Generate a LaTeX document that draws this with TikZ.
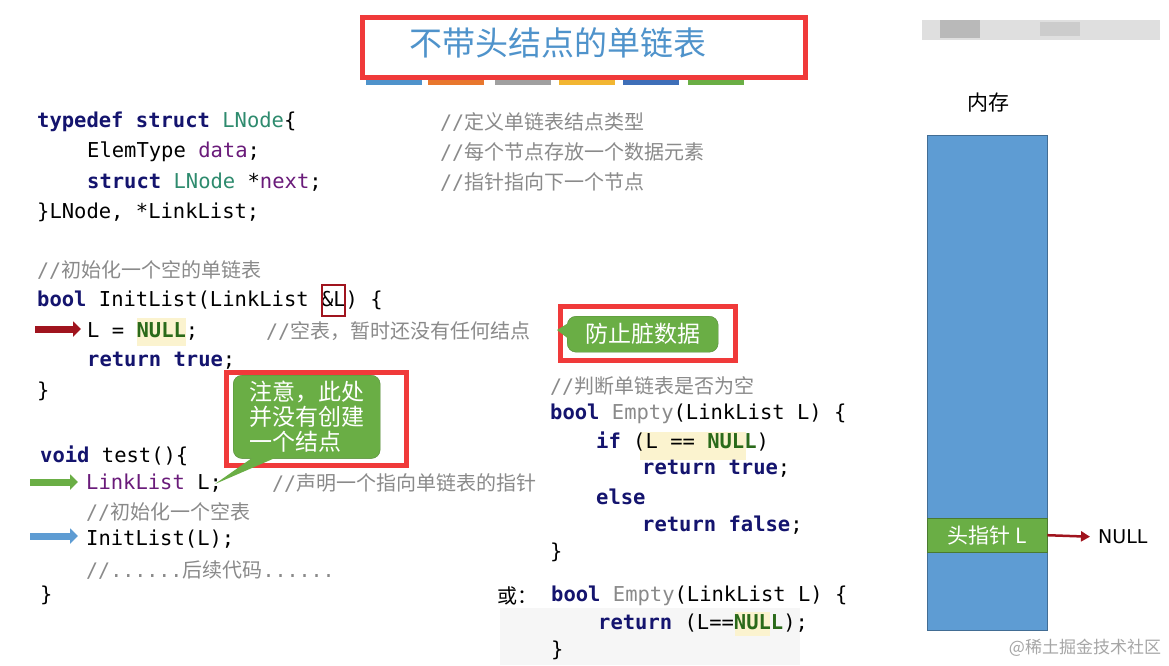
\documentclass[tikz,border=0pt]{standalone}
\usepackage{fontspec}
\setmainfont{DejaVu Sans}
\setmonofont{DejaVu Sans Mono}
\newfontfamily\cjk{Noto Sans CJK SC}
\usetikzlibrary{arrows.meta,shapes.callouts}
\definecolor{kw}{HTML}{14146E}
\definecolor{ty}{HTML}{2E8B6E}
\definecolor{fld}{HTML}{6A1B7A}
\definecolor{cm}{HTML}{8A8A8A}
\definecolor{nul}{HTML}{2A6A1A}
\definecolor{hl}{HTML}{FBF3CF}
\definecolor{ttl}{HTML}{4F93CB}
\definecolor{mem}{HTML}{5E9CD3}
\definecolor{grn}{HTML}{6AAE45}
\definecolor{redb}{HTML}{F03A3A}
\definecolor{dred}{HTML}{A0141E}
\definecolor{b1}{HTML}{4F93CB}
\definecolor{b2}{HTML}{E8772E}
\definecolor{b3}{HTML}{A0A0A0}
\definecolor{b4}{HTML}{F2B632}
\definecolor{b5}{HTML}{3E6FB8}
\definecolor{b6}{HTML}{6AAE45}
\newcommand{\kw}[1]{{\bfseries\color{kw}#1}}
\newcommand{\ty}[1]{{\color{ty}#1}}
\newcommand{\fl}[1]{{\color{fld}#1}}
\newcommand{\cm}[1]{{\color{cm}//\cjk #1}}
\newcommand{\nl}{{\bfseries\color{nul}NULL}}
\begin{document}
\begin{tikzpicture}[x=1pt,y=-1pt,
  code/.style={anchor=west,inner sep=0pt,font=\ttfamily\fontsize{20.5}{22}\selectfont},
  cmt/.style={anchor=west,inner sep=0pt,font=\ttfamily\fontsize{20}{22}\selectfont},
  redbox/.style={draw=redb,line width=5pt},
  bubble/.style={fill=grn,draw=grn!80!black,rounded corners=9pt,text=white,font=\cjk\fontsize{23}{27}\selectfont,align=left,inner sep=4pt},
  blk/.style={-{Triangle[length=8pt,width=15pt]},line width=7pt}]
\useasboundingbox (0,0) rectangle (1169,665);
\fill[white] (0,0) rectangle (1169,665);
% top-right blurred
\fill[gray!25] (922,20) rectangle (1160,40);
\fill[gray!55] (940,20) rectangle (980,38);
\fill[gray!40] (1040,22) rectangle (1080,36);
% title
\foreach \x/\c in {366/b1,428/b2,495/b3,559/b4,623/b5,688/b6}
  \fill[\c] (\x,80) rectangle ++(56,5);
\node[redbox,minimum width=443pt,minimum height=60pt,anchor=north west,inner sep=0pt] (title) at (360,15) {};
\node[text=ttl,font=\cjk\fontsize{33}{36}\selectfont] (tt) at (558,43) {不带头结点的单链表};
% struct
\node[code] (l1) at (37,122) {\kw{typedef struct} \ty{LNode}\{};
\node[code] (l2) at (87,152) {ElemType \fl{data};};
\node[code] (l3) at (87,182) {\kw{struct} \ty{LNode} *\fl{next};};
\node[code] (l4) at (37,212) {\}LNode, *LinkList;};
\node[cmt] (c1) at (440,122) {\cm{定义单链表结点类型}};
\node[cmt] (c2) at (440,152) {\cm{每个节点存放一个数据元素}};
\node[cmt] (c3) at (440,182) {\cm{指针指向下一个节点}};
% InitList
\node[cmt] (c4) at (37,270) {\cm{初始化一个空的单链表}};
\node[code] (i1) at (37,300) {\kw{bool} InitList(LinkList \&L) \{};
\draw[dred,line width=2pt] (322,285) rectangle (345,316);
\fill[hl] (137,318) rectangle (186,346);
\node[code] (i2) at (87,331) {L = \nl;};
\node[cmt] (c5) at (266,331) {\cm{空表，暂时还没有任何结点}};
\node[code] (i3) at (87,361) {\kw{return true};};
\node[code] (i4) at (37,391) {\}};
\coordinate (ra) at (35,329);
\draw[blk,dred] (ra) -- ++(46,0) coordinate (rb);
% test
\node[code] (t1) at (40,456) {\kw{void} test()\{};
\node[code] (t2) at (86,483) {\fl{LinkList} L;};
\node[cmt] (c6) at (272,483) {\cm{声明一个指向单链表的指针}};
\node[cmt] (c7) at (86,512) {\cm{初始化一个空表}};
\node[code] (t3) at (86,539) {InitList(L);};
\node[cmt] (c8) at (86,570) {{\color{cm}//......\cjk 后续代码\ttfamily ......}};
\node[code] (t4) at (40,595) {\}};
\draw[blk,grn] (30,482) -- ++(48,0);
\draw[blk,mem] (30,536) -- ++(48,0);
% callouts
\node[redbox,anchor=north west,minimum width=180pt,minimum height=93pt,inner sep=0pt] (rb2) at (224,370) {};
\node[bubble,anchor=north west,minimum width=147pt,minimum height=83pt,inner sep=6pt] (b2) at (233,375) {注意，此处\\[-2pt]并没有创建\\[-2pt]一个结点};
\fill[grn] (252,458) -- (215,484) -- (275,458) -- cycle;
\node[redbox,anchor=north west,minimum width=175pt,minimum height=54pt,inner sep=0pt] (rb1) at (558,304) {};
\node[bubble,anchor=north west,minimum width=151pt,minimum height=36pt] (b1) at (567,316) {防止脏数据};
\fill[grn] (570,322) -- (557,330) -- (570,340) -- cycle;
% Empty
\node[cmt] (c9) at (550,386) {\cm{判断单链表是否为空}};
\node[code] (e1) at (550,414) {\kw{bool} {\color{cm}Empty}(LinkList L) \{};
\fill[hl] (640,432) rectangle (746,460);
\node[code] (e2) at (596,442) {\kw{if} (L == \nl)};
\node[code] (e3) at (642,469) {\kw{return true};};
\node[code] (e4) at (596,497) {\kw{else}};
\node[code] (e5) at (642,525) {\kw{return false};};
\node[code] (e6) at (550,552) {\}};
\node[anchor=west,font=\cjk\fontsize{20}{22}\selectfont,inner sep=0pt] (or) at (497,596) {或：};
\node[code] (f1) at (551,596) {\kw{bool} {\color{cm}Empty}(LinkList L) \{};
\fill[gray!7] (500,608) rectangle (800,665);
\fill[hl] (735,612) rectangle (770,636);
\node[code] (f2) at (598,623) {\kw{return} (L==\nl);};
\node[code] (f3) at (551,650) {\}};
% memory
\node[font=\cjk\fontsize{21}{22}\selectfont] (memt) at (988,103) {内存};
\node[fill=mem,draw=mem!70!black,anchor=north west,minimum width=120pt,minimum height=495pt,inner sep=0pt] (memr) at (927,135) {};
\node[fill=grn,draw=grn!70!black,anchor=north west,minimum width=120pt,minimum height=34pt,inner sep=0pt,text=white,font=\cjk\fontsize{21}{22}\selectfont] (hp) at (927,518) {头指针 L};
\node[anchor=west,font=\fontsize{19}{22}\selectfont,inner sep=0pt] (null) at (1098,537) {NULL};
\draw[dred,line width=2.5pt,-{Triangle[length=9pt,width=10pt]},shorten >=8pt] (hp.east) -- (null.west);
\node[text=gray!70,font=\cjk\fontsize{17}{20}\selectfont] (wm) at (1085,648) {@稀土掘金技术社区};
\end{tikzpicture}
\end{document}
